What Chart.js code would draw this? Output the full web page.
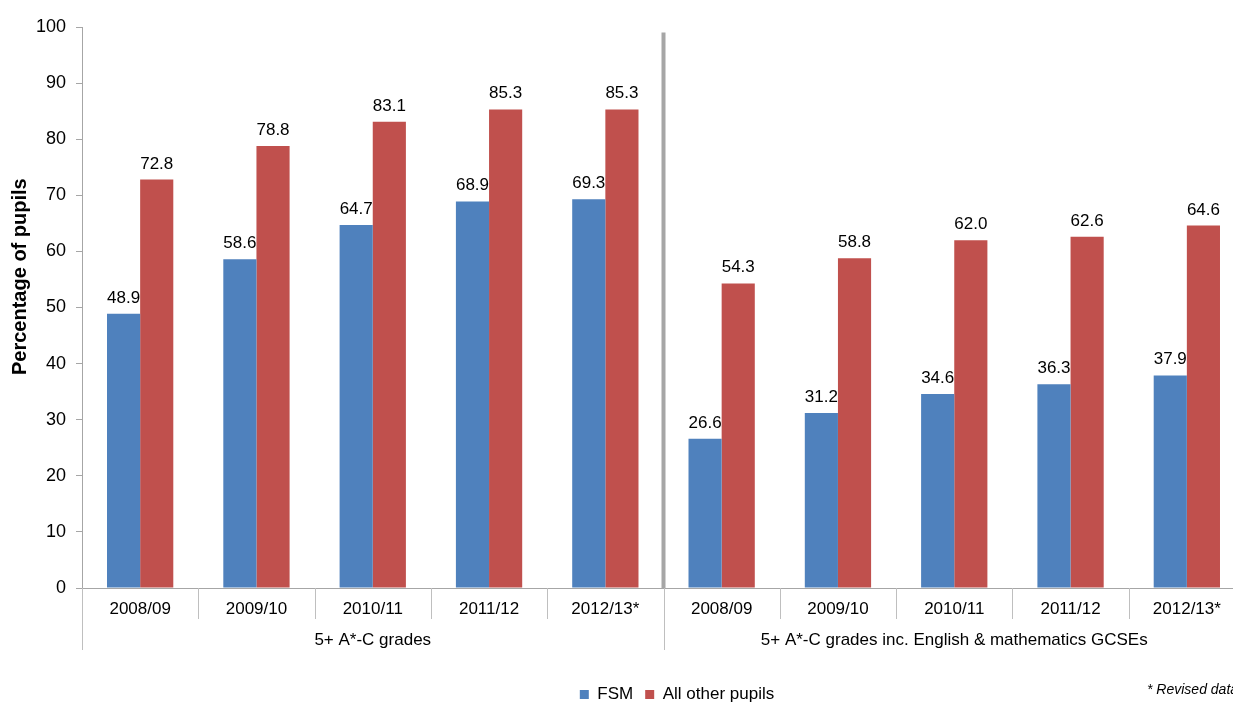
<!DOCTYPE html>
<html>
<head>
<meta charset="utf-8">
<script src="https://cdn.jsdelivr.net/npm/chart.js@4.4.0/dist/chart.umd.min.js"></script>
<style>
  html, body { margin: 0; padding: 0; background: #fff; overflow: hidden; }
  #wrap { width: 1233px; height: 702px; overflow: hidden; position: relative; }
  #box { width: 1354px; height: 713px; }
</style>
</head>
<body>
<div id="wrap"><div id="box"><canvas id="c"></canvas></div></div>
<script>
// data
const years = ["2008/09", "2009/10", "2010/11", "2011/12", "2012/13*",
               "2008/09", "2009/10", "2010/11", "2011/12", "2012/13*"];
const groups = ["5+ A*-C grades", "5+ A*-C grades inc. English & mathematics GCSEs"];
const perGroup = 5;
const fsm = [48.9, 58.6, 64.7, 68.9, 69.3, 26.6, 31.2, 34.6, 36.3, 37.9];
const others = [72.8, 78.8, 83.1, 85.3, 85.3, 54.3, 58.8, 62.0, 62.6, 64.6];
const seriesNames = ["FSM", "All other pupils"];
const yMin = 0, yMax = 100, yStep = 10;
const yTitle = "Percentage of pupils";
const footnote = "* Revised data";

const FONT = '"Liberation Sans", Arial, sans-serif';
const GRAY = "#A6A6A6";

// value labels, category separators, divider, group names, y title, footnote
const extras = {
  id: "extras",
  afterDatasetsDraw(chart) {
    const { ctx, chartArea, scales: { x, y } } = chart;
    ctx.save();

    ctx.font = "17px " + FONT;
    ctx.fillStyle = "#000";
    ctx.textAlign = "center";
    ctx.textBaseline = "alphabetic";
    chart.data.datasets.forEach((ds, i) => {
      chart.getDatasetMeta(i).data.forEach((bar, j) => {
        ctx.fillText(ds.data[j].toFixed(1), bar.x, bar.y - 11);
      });
    });

    const step = x.getPixelForValue(1) - x.getPixelForValue(0);
    const edge = k => x.getPixelForValue(k) - step / 2;

    ctx.strokeStyle = "#BFBFBF";
    ctx.lineWidth = 1;
    for (let k = 0; k <= years.length; k++) {
      const px = Math.round(edge(k)) + 0.5;
      const long = k % perGroup === 0;
      ctx.beginPath();
      ctx.moveTo(px, chartArea.bottom);
      ctx.lineTo(px, chartArea.bottom + (long ? 62 : 31));
      ctx.stroke();
    }

    // thick divider between the two groups
    ctx.strokeStyle = GRAY;
    ctx.lineWidth = 4;
    const dx = edge(perGroup);
    ctx.beginPath();
    ctx.moveTo(dx, y.getPixelForValue(99));
    ctx.lineTo(dx, chartArea.bottom);
    ctx.stroke();

    ctx.fillStyle = "#000";
    ctx.font = "17px " + FONT;
    ctx.textBaseline = "middle";
    groups.forEach((g, i) => {
      const cx = (edge(i * perGroup) + edge((i + 1) * perGroup)) / 2;
      ctx.fillText(g, cx, chartArea.bottom + 52);
    });

    // axis title, sitting a little above the axis middle as in the original
    ctx.save();
    ctx.translate(20, y.getPixelForValue(55.5));
    ctx.rotate(-Math.PI / 2);
    ctx.font = "bold 20px " + FONT;
    ctx.fillText(yTitle, 0, 0);
    ctx.restore();

    ctx.font = "italic 14px " + FONT;
    ctx.textAlign = "left";
    ctx.fillText(footnote, 1147, 690);
    ctx.restore();
  }
};

new Chart(document.getElementById("c"), {
  type: "bar",
  data: {
    labels: years,
    datasets: [
      { label: seriesNames[0], data: fsm, backgroundColor: "#4F81BD", borderWidth: 0 },
      { label: seriesNames[1], data: others, backgroundColor: "#C0504D", borderWidth: 0 }
    ]
  },
  options: {
    responsive: true,
    maintainAspectRatio: false,
    devicePixelRatio: 1,
    animation: false,
    categoryPercentage: 0.57,
    barPercentage: 1.0,
    layout: { padding: { top: 27, left: 0, right: 0, bottom: 0 } },
    plugins: {
      tooltip: { enabled: false },
      legend: {
        position: "bottom",
        labels: {
          boxWidth: 9,
          boxHeight: 9,
          padding: 12,
          color: "#000",
          font: { family: FONT, size: 17 }
        }
      }
    },
    scales: {
      x: {
        grid: { display: false },
        border: { display: true, color: GRAY, width: 1 },
        ticks: { color: "#000", padding: 3, maxRotation: 0, autoSkip: false,
                 font: { family: FONT, size: 17 } },
        afterFit: s => { s.height = 86; }
      },
      y: {
        min: yMin,
        max: yMax,
        ticks: { stepSize: yStep, color: "#000", padding: 10,
                 font: { family: FONT, size: 18 } },
        grid: { drawOnChartArea: false, drawTicks: true, tickLength: 6, color: GRAY },
        border: { display: true, color: GRAY, width: 1 },
        afterFit: s => { s.width = 82; }
      },
      pad: {
        position: "right",
        display: true,
        grid: { display: false },
        border: { display: false },
        ticks: { display: false },
        afterFit: s => { s.width = 109; }
      }
    }
  },
  plugins: [extras]
});
</script>
</body>
</html>
